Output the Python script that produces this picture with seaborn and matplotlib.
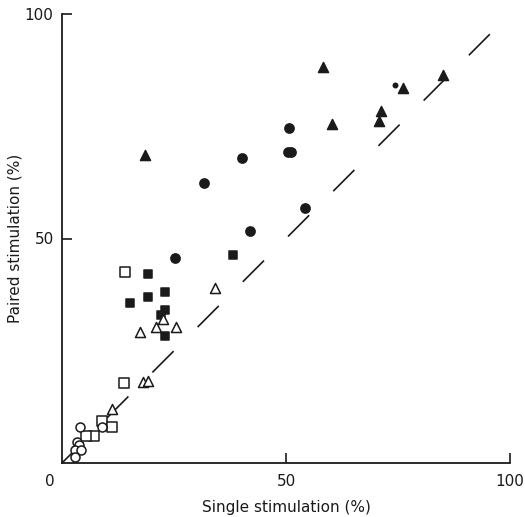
import matplotlib
matplotlib.use("Agg")
import matplotlib.pyplot as plt
import seaborn as sns
import pandas as pd

# ---- data ----
filled_tri_x = [18.5, 58.3, 60.2, 71.2, 70.8, 76.2, 85.1]
filled_tri_y = [68.6, 88.3, 75.5, 78.5, 76.2, 83.6, 86.5]

filled_circ_x = [50.7, 50.5, 51.2, 40.2, 31.7, 54.2, 42.0, 25.3]
filled_circ_y = [74.6, 69.3, 69.3, 68.0, 62.3, 56.7, 51.7, 45.7]

small_dot_x = [74.3]
small_dot_y = [84.1]

filled_sq_x = [38.1, 19.3, 19.1, 23.1, 15.2, 23.1, 22.1, 23.1]
filled_sq_y = [46.3, 42.2, 37.0, 38.0, 35.7, 34.1, 32.9, 28.2]

open_tri_x = [22.6, 17.3, 20.9, 25.4, 34.2, 18.1, 19.2, 11.2]
open_tri_y = [32.1, 29.2, 30.2, 30.2, 39.0, 18.0, 18.2, 12.0]

open_sq_x = [14.1, 13.8, 9.0, 11.1, 7.1, 5.3]
open_sq_y = [42.6, 17.8, 9.3, 8.0, 6.1, 6.1]

open_circ_x = [9.0, 4.1, 3.3, 3.8, 2.8, 4.3, 3.0]
open_circ_y = [8.1, 8.1, 4.7, 3.9, 3.0, 2.9, 1.4]

identity_line = [0, 95.5]

x_ticks = [50, 100]
y_ticks = [50, 100]
x_label = "Single stimulation (%)"
y_label = "Paired stimulation (%)"

INK = "#1a1a1a"

sns.set_theme(style="white")
plt.rcParams["font.family"] = ["DejaVu Sans"]

fig = plt.figure(figsize=(5.25, 5.17), dpi=100)
ax = fig.add_axes([62 / 525, 1 - 463 / 517, 448 / 525, 449 / 517])

groups = [
    (filled_tri_x, filled_tri_y, "^", INK, 52),
    (filled_circ_x, filled_circ_y, "o", INK, 44),
    (filled_sq_x, filled_sq_y, "s", INK, 40),
    (small_dot_x, small_dot_y, "o", INK, 10),
    (open_tri_x, open_tri_y, "^", "white", 52),
    (open_sq_x, open_sq_y, "s", "white", 44),
    (open_circ_x, open_circ_y, "o", "white", 42),
]

# identity (dashed) line
ax.plot(identity_line, identity_line, color=INK, lw=1.2,
        dashes=(18, 20.4), zorder=1)

for xs, ys, m, fc, s in groups:
    df = pd.DataFrame({"x": xs, "y": ys})
    sns.scatterplot(data=df, x="x", y="y", marker=m, s=s,
                    facecolor=fc, edgecolor=INK, linewidth=1.1,
                    ax=ax, zorder=3, legend=False)

ax.set_xlim(0, 100)
ax.set_ylim(0, 100)
ax.set_xticks(x_ticks)
ax.set_yticks(y_ticks)
ax.set_xticklabels([str(t) for t in x_ticks])
ax.set_yticklabels([str(t) for t in y_ticks])
ax.tick_params(axis="both", direction="in", length=7, width=1.2,
               colors=INK, labelsize=11, bottom=True, left=True)
ax.tick_params(axis="x", pad=8)
ax.tick_params(axis="y", pad=6)

for sp in ["top", "right"]:
    ax.spines[sp].set_visible(False)
for sp in ["left", "bottom"]:
    ax.spines[sp].set_color(INK)
    ax.spines[sp].set_linewidth(1.3)

ax.set_xlabel(x_label, fontsize=11, color=INK, labelpad=8)
ax.set_ylabel(y_label, fontsize=11, color=INK, labelpad=2)

ax.annotate("0", xy=(0, 0), xycoords="data", xytext=(-9, -8),
            textcoords="offset points", ha="center", va="top",
            fontsize=11, color=INK, annotation_clip=False)

fig.savefig("out.png", dpi=100, facecolor="white")
